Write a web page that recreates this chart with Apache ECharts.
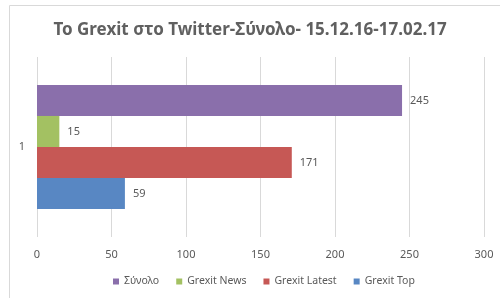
<!DOCTYPE html>
<html>
<head>
<meta charset="utf-8">
<script src="https://cdn.jsdelivr.net/npm/echarts@6/dist/echarts.min.js"></script>
<style>
  html, body { margin: 0; padding: 0; background: #fff; }
  #chart { width: 500px; height: 298px; }
</style>
</head>
<body>
<div id="chart"></div>
<script>
  const categories = ['1'];
  const seriesNames = ['Σύνολο', 'Grexit News', 'Grexit Latest', 'Grexit Top'];
  const seriesValues = [[245], [15], [171], [59]];
  const seriesColors = ['#8a6fab', '#a3c162', '#c65855', '#5887c3'];
  const xTicks = [0, 50, 100, 150, 200, 250, 300];

  const chart = echarts.init(document.getElementById('chart'));
  const font = 'Noto Sans';

  const option = {
    animation: false,
    textStyle: { fontFamily: font },
    title: {
      text: 'Το Grexit στο Twitter-Σύνολο- 15.12.16-17.02.17',
      left: 'center',
      top: 17,
      textStyle: { fontSize: 17, fontWeight: 'bold', color: '#606060', fontFamily: font },
    },
    graphic: [
      {
        type: 'rect',
        shape: { x: 9.5, y: 5.5, width: 500, height: 300 },
        style: { fill: 'none', stroke: '#d9d9d9', lineWidth: 1 },
        silent: true,
      },
    ],
    legend: {
      bottom: 6,
      left: 108,
      data: seriesNames,
      itemWidth: 6,
      itemHeight: 6,
      itemGap: 17,
      icon: 'rect',
      textStyle: { fontSize: 10.5, color: '#595959', fontFamily: font },
    },
    grid: { left: 37, right: 16, top: 57, bottom: 61, containLabel: false },
    xAxis: {
      type: 'value',
      min: xTicks[0],
      max: xTicks[xTicks.length - 1],
      interval: 50,
      axisLine: { show: false },
      axisTick: { show: false },
      axisLabel: { fontSize: 11, color: '#595959', margin: 12 },
      splitLine: { lineStyle: { color: '#d9d9d9' } },
    },
    yAxis: {
      type: 'category',
      data: categories,
      inverse: true,
      axisLine: { show: false },
      axisTick: { show: false },
      axisLabel: { fontSize: 11, color: '#595959', margin: 12 },
    },
    series: seriesNames.map((name, i) => ({
      name,
      type: 'bar',
      data: seriesValues[i],
      barGap: '0%',
      barCategoryGap: '31%',
      itemStyle: { color: seriesColors[i] },
      label: {
        show: true,
        position: 'right',
        distance: 8,
        fontSize: 11,
        color: '#595959',
      },
    })),
  };

  chart.setOption(option);
</script>
</body>
</html>
